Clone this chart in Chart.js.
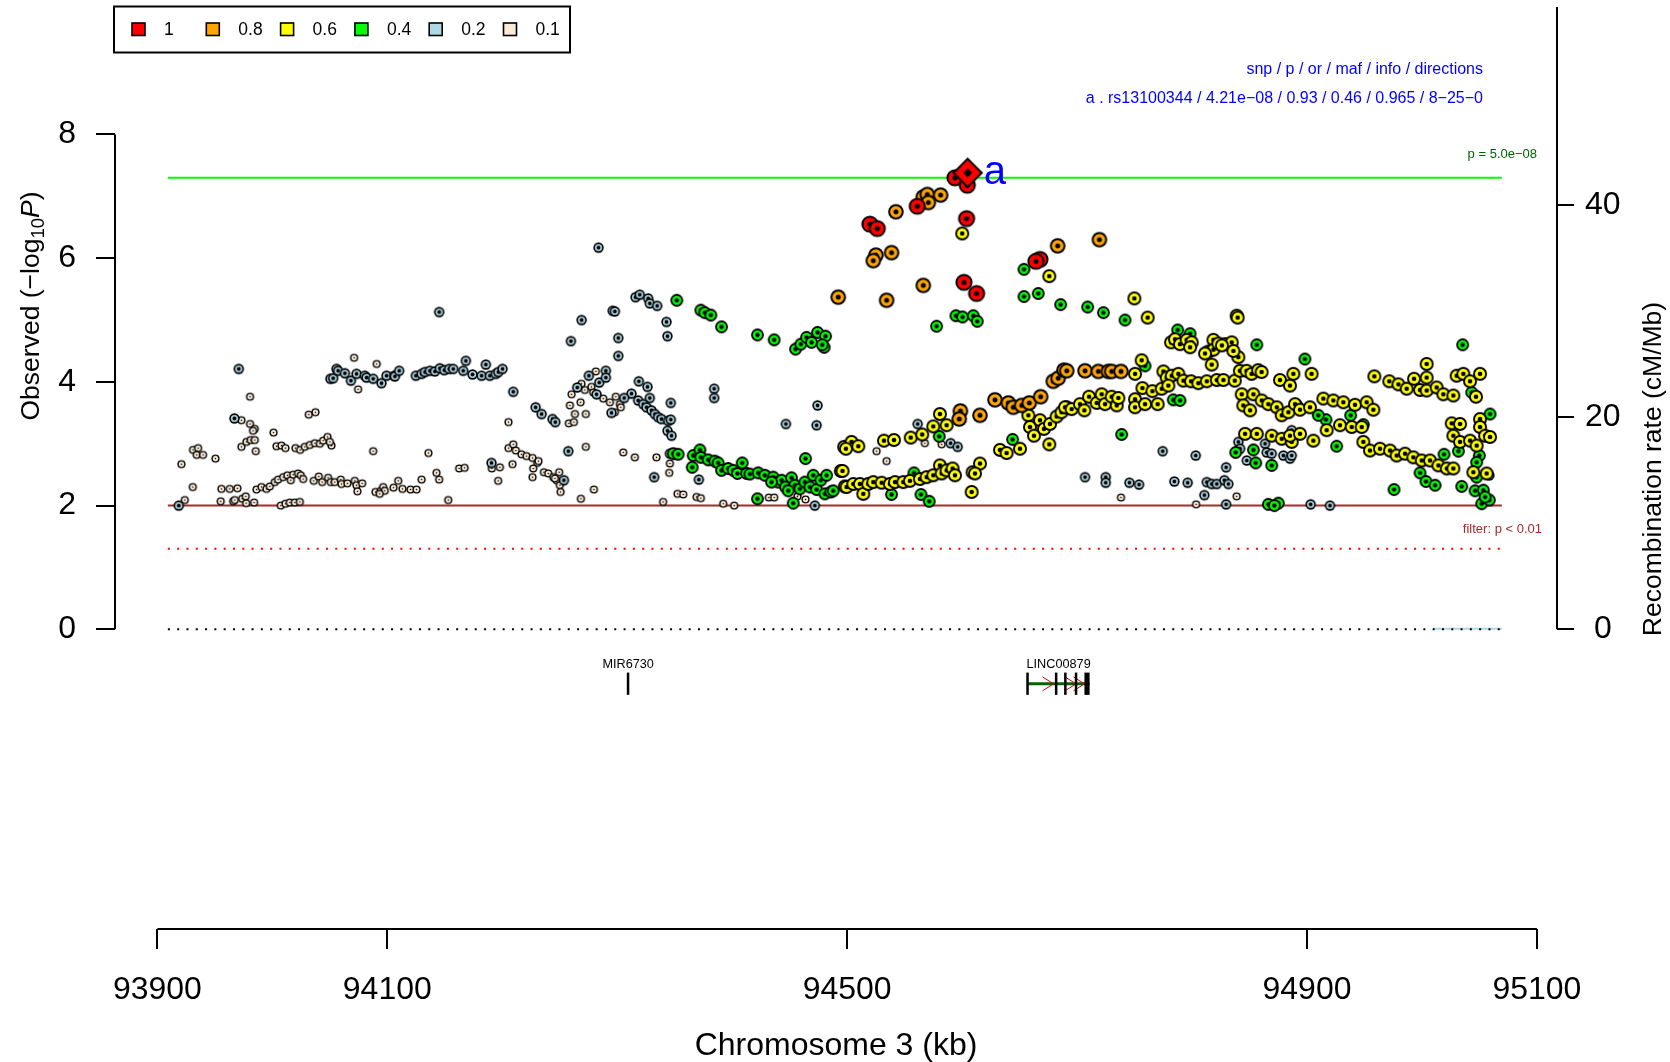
<!DOCTYPE html>
<html>
<head>
<meta charset="utf-8">
<script src="https://cdn.jsdelivr.net/npm/chart.js@4.4.1/dist/chart.umd.min.js"></script>
<style>
  html, body { margin: 0; padding: 0; background: #fff; }
  #wrap { width: 1670px; height: 1062px; }
</style>
</head>
<body>
<div id="wrap"><canvas id="locus" width="1670" height="1062"></canvas></div>
<script>
const FONT = "'Liberation Sans', Arial, Helvetica, sans-serif";

// LD (r^2) bins as in the legend
const ldLabels = ["1", "0.8", "0.6", "0.4", "0.2", "0.1"];
const ldColors = ["#FF0000", "#FFA500", "#FFFF00", "#00FF00", "#ADD8E6", "#FAEBD7"];

// SNPs per LD bin: [position (kb), -log10 p]
const snpsLd10 = [
  [94593.8, 7.30], [94604.5, 7.18], [94561.0, 6.84], [94519.8, 6.55], [94526.2, 6.48],
  [94603.9, 6.64], [94601.6, 5.61], [94612.6, 5.43], [94667.7, 5.98], [94664.2, 5.95]
];
const snpsLd08 = [
  [94492.2, 5.37], [94542.4, 6.75], [94566.2, 6.99], [94569.7, 7.03], [94581.3, 7.02], [94570.6, 6.90],
  [94525.0, 6.05], [94522.7, 5.96], [94538.6, 6.09], [94566.2, 5.56], [94534.3, 5.32], [94683.1, 6.20],
  [94615.5, 3.46], [94598.5, 3.53], [94597.5, 3.40], [94628.6, 3.71], [94640.2, 3.66], [94644.5, 3.59],
  [94651.8, 3.62], [94658.4, 3.66], [94668.3, 3.76], [94679.3, 4.01], [94683.6, 4.06], [94688.6, 4.19],
  [94719.4, 6.30], [94691.0, 4.18], [94706.9, 4.18], [94718.5, 4.17], [94727.2, 4.17], [94730.1, 4.17],
  [94738.2, 4.17]
];
const snpsLd06 = [
  [94497.4, 2.95], [94494.5, 2.56], [94498.0, 2.31],
  [94600.1, 6.40], [94675.8, 5.71], [94580.7, 3.48], [94574.9, 3.28], [94586.5, 3.30], [94555.3, 3.10],
  [94532.0, 3.05], [94540.7, 3.06], [94503.8, 3.03], [94509.7, 2.96], [94498.9, 2.92], [94565.3, 3.15],
  [94675.8, 2.99], [94632.9, 2.90], [94638.7, 2.85], [94650.3, 2.92], [94657.6, 3.46], [94659.0, 3.27],
  [94662.5, 3.13], [94667.7, 3.38], [94671.2, 3.24], [94676.4, 3.32], [94682.2, 3.44], [94686.5, 3.51],
  [94690.9, 3.59],
  [94496.0, 2.56], [94499.5, 2.30], [94505.3, 2.35], [94511.1, 2.35], [94514.0, 2.19], [94518.3, 2.35],
  [94522.7, 2.38], [94530.0, 2.37], [94537.2, 2.35], [94541.6, 2.38], [94548.8, 2.38], [94554.6, 2.40],
  [94563.3, 2.43], [94569.1, 2.46], [94574.9, 2.49], [94580.7, 2.65], [94582.2, 2.52], [94586.5, 2.57],
  [94591.7, 2.60], [94593.8, 2.49], [94608.3, 2.22], [94609.1, 2.54], [94615.5, 2.68], [94611.2, 2.52],
  [94749.8, 5.35], [94761.4, 5.04], [94838.8, 5.07], [94839.7, 5.04],
  [94781.7, 4.64], [94785.2, 4.69], [94789.5, 4.61], [94795.3, 4.68], [94799.7, 4.64], [94798.3, 4.56],
  [94818.6, 4.68], [94814.2, 4.49], [94818.6, 4.52], [94822.9, 4.62], [94828.7, 4.61], [94834.5, 4.64],
  [94840.3, 4.40], [94817.1, 4.28], [94826.0, 4.59], [94811.3, 4.46], [94836.0, 4.50],
  [94750.4, 4.13], [94756.2, 4.35], [94775.1, 4.17], [94778.0, 4.07], [94782.3, 4.10], [94788.1, 4.13],
  [94792.5, 4.02], [94799.1, 4.01], [94805.5, 3.98], [94812.8, 4.01], [94821.5, 4.03], [94827.3, 4.03],
  [94837.2, 4.02], [94841.6, 4.18], [94847.4, 4.18], [94851.8, 4.13], [94857.5, 4.19], [94860.5, 4.16],
  [94876.5, 4.03], [94885.2, 3.94], [94888.1, 4.13],
  [94689.5, 3.59], [94695.3, 3.56], [94702.5, 3.64], [94706.3, 3.54], [94710.4, 3.76], [94717.1, 3.66],
  [94721.4, 3.80], [94724.3, 3.64], [94730.1, 3.76], [94734.5, 3.62], [94735.9, 3.74], [94750.4, 3.72],
  [94750.4, 3.59], [94756.8, 3.90], [94759.1, 3.64], [94765.5, 3.85], [94770.1, 3.64], [94773.6, 3.89],
  [94779.4, 3.94],
  [94843.2, 3.80], [94844.6, 3.62], [94850.5, 3.54], [94853.4, 3.80], [94860.6, 3.70], [94866.4, 3.64],
  [94873.7, 3.59], [94878.0, 3.46], [94883.8, 3.51], [94889.6, 3.64],
  [94846.1, 3.16], [94856.3, 3.16], [94869.3, 3.13], [94878.0, 3.08], [94886.7, 3.03],
  [94904.0, 4.13], [94958.6, 4.09], [95004.1, 4.29], [95004.1, 4.07], [94971.6, 4.01], [94979.5, 3.96],
  [94986.7, 3.89], [94993.1, 4.05], [94998.3, 3.87], [95004.1, 3.86], [95012.8, 3.91], [95018.6, 3.80],
  [95027.3, 3.78], [95030.2, 4.10], [95036.0, 4.13], [95041.8, 4.01], [95050.5, 4.13], [95047.0, 3.76],
  [94893.9, 3.55], [94902.6, 3.59], [94914.2, 3.73], [94922.9, 3.70], [94931.6, 3.67], [94941.7, 3.63],
  [94951.9, 3.67], [94957.7, 3.55],
  [94885.2, 3.13], [94893.9, 3.16], [94905.5, 3.05], [94917.1, 3.22], [94928.7, 3.30], [94938.9, 3.27],
  [94947.6, 3.27], [94949.0, 3.03], [94954.8, 2.89], [94963.5, 2.92], [94972.2, 2.89], [94978.0, 2.81],
  [94985.3, 2.84], [94992.5, 2.78], [94999.8, 2.73], [95007.0, 2.73], [95014.3, 2.65], [95021.6, 2.60],
  [95027.3, 2.60],
  [95025.9, 3.33], [95033.1, 3.32], [95050.5, 3.40], [95050.5, 3.27], [95054.9, 3.13], [95059.2, 3.11],
  [95027.3, 3.13], [95033.1, 3.03], [95041.8, 3.05], [95047.6, 2.97], [95044.7, 2.54], [95056.3, 2.52]
];
const snpsLd04 = [
  [94351.8, 5.32], [94372.7, 5.16], [94376.2, 5.12], [94381.4, 5.08], [94390.7, 4.89], [94422.0, 4.76],
  [94436.5, 4.68], [94455.1, 4.53], [94459.7, 4.61], [94464.7, 4.72], [94469.0, 4.64], [94474.2, 4.80],
  [94481.2, 4.74], [94480.0, 4.56], [94478.3, 4.60],
  [94348.7, 2.84], [94353.0, 2.83], [94365.2, 2.62], [94366.1, 2.81], [94371.9, 2.90], [94372.7, 2.78],
  [94379.1, 2.74], [94384.9, 2.72], [94387.8, 2.69], [94390.7, 2.57], [94396.5, 2.60], [94400.9, 2.57],
  [94404.6, 2.52], [94408.7, 2.69], [94412.5, 2.52], [94415.4, 2.51], [94422.6, 2.53], [94428.4, 2.49],
  [94435.7, 2.46], [94440.0, 2.38], [94443.0, 2.41], [94446.4, 2.30], [94451.6, 2.45], [94454.5, 2.33],
  [94458.9, 2.27], [94463.2, 2.38], [94463.8, 2.76], [94467.6, 2.30], [94470.5, 2.49], [94473.4, 2.26],
  [94477.1, 2.41], [94480.6, 2.19], [94482.1, 2.49], [94485.8, 2.22], [94487.9, 2.24], [94453.1, 2.04],
  [94422.0, 2.11], [94434.2, 2.38], [94448.7, 2.24],
  [94577.8, 4.90], [94594.6, 5.07], [94600.4, 5.05], [94609.7, 5.07], [94613.2, 4.98], [94653.8, 5.82],
  [94653.8, 5.38], [94666.2, 5.43], [94685.7, 5.25], [94538.6, 2.18], [94564.2, 2.18], [94571.4, 2.07],
  [94558.1, 2.53], [94580.1, 3.12], [94643.9, 3.07],
  [94709.2, 5.21], [94722.9, 5.12], [94741.7, 5.00], [94787.5, 4.84], [94798.3, 4.78], [94856.3, 4.60],
  [94759.1, 4.26], [94783.7, 3.71], [94789.5, 3.70], [94738.8, 3.15], [94838.0, 2.86], [94853.4, 2.90],
  [94855.4, 2.69], [94869.3, 2.65], [94866.4, 2.02], [94875.1, 2.04], [94871.6, 2.00],
  [94898.2, 4.37], [95035.4, 4.60], [94938.0, 3.46], [94925.8, 2.96], [94916.5, 3.39], [94949.0, 3.31],
  [95059.2, 3.48], [94998.3, 2.53], [95003.5, 2.39], [95011.4, 2.33], [94975.7, 2.26], [95034.6, 2.31],
  [95019.2, 2.83], [95031.7, 2.88], [95049.9, 2.81], [95047.6, 2.70], [95046.2, 2.24], [95053.4, 2.25],
  [95047.6, 2.46], [95052.0, 2.03], [95058.6, 2.09], [95054.9, 2.14], [94891.0, 3.62], [94909.8, 3.46],
  [95043.3, 3.83]
];
const snpsLd02 = [
  [93918.6, 2.00], [93970.8, 4.21], [93967.0, 3.41],
  [94050.5, 4.05], [94052.9, 4.06], [94055.8, 4.21], [94057.2, 4.18], [94063.1, 4.14], [94068.3, 4.02],
  [94073.2, 4.13], [94080.4, 4.10], [94081.9, 4.07], [94087.7, 4.05], [94094.9, 3.98], [94099.3, 4.10],
  [94106.0, 4.10], [94106.6, 4.09], [94110.3, 4.18], [94124.8, 4.10], [94129.8, 4.13], [94132.7, 4.16],
  [94137.0, 4.18], [94141.4, 4.17], [94145.7, 4.22], [94149.5, 4.19], [94153.8, 4.21], [94157.3, 4.21],
  [94166.0, 4.18], [94168.3, 4.34], [94174.1, 4.12], [94182.0, 4.10], [94185.7, 4.28], [94189.2, 4.10],
  [94194.4, 4.13], [94196.5, 4.16], [94200.2, 4.21],
  [94145.1, 5.13], [94190.6, 2.69], [94209.5, 3.84], [94253.6, 2.41], [94229.0, 3.59], [94234.2, 3.48],
  [94243.7, 3.40], [94246.1, 3.35], [94257.4, 2.88], [94283.7, 6.17], [94269.0, 5.00], [94259.7, 4.66],
  [94296.0, 5.15], [94300.9, 4.71], [94300.9, 4.42], [94265.2, 3.91], [94275.3, 4.10], [94282.0, 3.80],
  [94284.3, 3.99], [94290.1, 4.18], [94290.1, 4.07], [94295.0, 3.50],
  [94315.9, 5.37], [94319.6, 5.41], [94326.9, 5.35], [94328.3, 5.27], [94334.7, 5.23], [94342.8, 4.97],
  [94343.7, 4.74], [94297.9, 5.14],
  [94318.8, 4.01], [94326.3, 3.92], [94328.3, 3.74], [94312.4, 3.81], [94306.0, 3.74], [94318.2, 3.70],
  [94322.6, 3.64], [94325.5, 3.59], [94329.8, 3.54], [94332.7, 3.48], [94335.6, 3.43], [94338.5, 3.40],
  [94344.3, 3.37], [94346.6, 3.39], [94346.6, 3.66], [94343.7, 3.21], [94347.2, 3.13], [94384.3, 3.89],
  [94384.3, 3.74], [94474.2, 3.62], [94446.7, 3.32], [94473.4, 3.30], [94332.1, 2.46], [94371.0, 2.42],
  [94471.9, 2.00], [94429.8, 2.49], [94345.8, 2.84],
  [94561.3, 3.32], [94590.0, 3.01], [94596.1, 2.95],
  [94706.9, 2.46], [94724.9, 2.46], [94724.9, 2.37], [94745.5, 2.37], [94753.9, 2.34], [94774.5, 2.88],
  [94803.2, 2.81], [94784.6, 2.39], [94796.2, 2.37], [94812.8, 2.38], [94817.1, 2.35], [94821.5, 2.35],
  [94828.1, 2.41], [94831.6, 2.35], [94829.6, 2.62], [94810.7, 2.17], [94829.6, 2.02], [94840.3, 3.03],
  [94841.8, 2.92], [94847.6, 2.73], [94863.5, 3.00], [94864.9, 2.86], [94869.3, 2.84], [94879.4, 2.81],
  [94885.2, 2.76], [94886.7, 3.22],
  [94903.2, 2.02], [94920.0, 2.00], [94886.7, 2.81], [95058.6, 2.49]
];
const snpsLd01 = [
  [93923.8, 2.09], [93920.9, 2.67], [93930.8, 2.30], [93931.0, 2.90], [93935.4, 2.93], [93934.2, 2.82],
  [93939.7, 2.82], [93950.5, 2.76], [93955.7, 2.27], [93962.9, 2.27], [93969.6, 2.28], [93955.1, 2.07],
  [93965.9, 2.07], [93973.7, 2.11], [93977.2, 2.04], [93984.1, 2.05], [93967.3, 2.09], [93976.9, 2.15],
  [93980.6, 3.76], [93973.1, 3.38], [93980.6, 3.32], [93984.7, 3.24], [93983.2, 3.21], [93973.1, 2.95],
  [93977.4, 3.03], [93981.2, 3.06], [93984.7, 3.06], [93985.6, 2.88], [94001.0, 3.18], [94003.6, 2.96],
  [94007.9, 2.97], [94011.4, 2.93], [94020.1, 2.93], [94024.2, 2.90], [94028.2, 2.95], [94032.6, 2.98],
  [94037.0, 3.01], [94041.3, 3.00], [94044.2, 3.05], [94048.0, 3.11], [94051.4, 2.97], [94050.0, 3.03],
  [94031.7, 3.47], [94037.5, 3.51], [94071.1, 4.39], [94090.8, 4.29], [94074.6, 3.88], [94087.7, 2.88],
  [93986.2, 2.26], [93990.5, 2.30], [93994.9, 2.27], [93997.8, 2.31], [94002.1, 2.38], [94005.0, 2.42],
  [94009.4, 2.46], [94013.1, 2.49], [94016.0, 2.41], [94018.1, 2.50], [94022.4, 2.52], [94024.7, 2.49],
  [94026.8, 2.43], [94036.0, 2.40], [94040.4, 2.47], [94043.3, 2.38], [94048.5, 2.45], [94050.8, 2.38],
  [94054.3, 2.38], [94059.5, 2.42], [94060.1, 2.35], [94065.3, 2.36], [94071.7, 2.40], [94073.1, 2.33],
  [94074.0, 2.23], [94078.1, 2.36],
  [94007.3, 2.00], [94011.4, 2.03], [94015.2, 2.05], [94019.5, 2.05], [94023.9, 2.06],
  [94089.7, 2.22], [94094.3, 2.24], [94096.4, 2.30], [94097.8, 2.24], [94093.4, 2.19], [94105.4, 2.29],
  [94109.5, 2.40], [94113.2, 2.27], [94120.2, 2.26], [94125.4, 2.26], [94129.8, 2.42], [94135.8, 2.85],
  [94142.8, 2.53], [94145.1, 2.42], [94153.0, 2.09], [94162.5, 2.60], [94167.2, 2.61], [94190.9, 2.60],
  [94197.9, 2.62], [94196.4, 2.40], [94205.4, 3.35],
  [94205.4, 2.93], [94209.5, 2.99], [94211.8, 2.89], [94216.7, 2.83], [94221.1, 2.80], [94226.3, 2.77],
  [94230.4, 2.69], [94231.5, 2.72], [94226.9, 2.60], [94236.2, 2.54], [94240.0, 2.52], [94244.3, 2.46],
  [94247.2, 2.41], [94249.5, 2.54], [94250.1, 2.33], [94250.7, 2.22], [94208.9, 2.67], [94226.3, 2.46],
  [94245.8, 2.44], [94272.7, 2.95], [94268.4, 2.11], [94279.7, 2.26],
  [94260.3, 3.80], [94258.8, 3.62], [94263.2, 3.48], [94257.9, 3.33], [94262.3, 3.35], [94268.1, 3.67],
  [94272.7, 3.48], [94271.8, 3.87], [94277.6, 3.92], [94281.4, 4.17], [94287.8, 3.73], [94293.6, 3.67],
  [94298.8, 3.76], [94302.3, 3.64], [94268.9, 3.97], [94279.1, 3.83],
  [94303.1, 3.59], [94297.9, 3.51], [94305.2, 2.86], [94315.3, 2.78], [94334.1, 2.78], [94345.8, 2.68],
  [94345.2, 2.53], [94352.4, 2.19], [94357.4, 2.18], [94369.0, 2.14], [94372.7, 2.12], [94339.9, 2.06],
  [94392.2, 2.03], [94401.7, 2.00], [94431.9, 2.13], [94436.5, 2.13], [94463.8, 2.10], [94456.8, 2.15],
  [94525.6, 2.88], [94534.3, 2.72], [94567.6, 3.01], [94582.2, 2.99],
  [94738.2, 2.13], [94803.5, 2.02], [94838.8, 2.15]
];

// index SNP
const leadSnp = [[94604.8, 7.38]];
const leadTag = "a";
const infoHeader = "snp / p / or / maf / info / directions";
const infoLine = "a . rs13100344 / 4.21e\u221208 / 0.93 / 0.46 / 0.965 / 8\u221225\u22120";

// axes
const xTicks = [93900, 94100, 94500, 94900, 95100];
const yTicks = [0, 2, 4, 6, 8];
const recombTicks = [0, 20, 40];
const recombAxisTop = 58.7;

// reference lines across the SNP span
const refLineKb = [93909.1, 95069.5];
const gwsLogP = 7.301;     // p = 5e-08
const filterLogP = 2;      // p < 0.01
const nominalLogP = 1.301; // p = 0.05

// recombination rate (cM/Mb)
const recombKb = [95009.6, 95069.5];
const recombRate = [0.05, 0.05];

// gene track
const geneNames = ["MIR6730", "LINC00879"];
const geneStart = [94309.5, 94657.0];
const geneEnd = [94309.5, 94710.9];
const geneExons = [
  [[94309.4, 94309.6]],
  [[94656.9, 94657.1], [94681.8, 94682.0], [94689.8, 94690.0], [94699.1, 94699.3], [94706.4, 94710.9]]
];
const geneArrowsKb = [[], [94679.5, 94699.0, 94706.4]];

// marker look per LD bin (outer radius, outline, centre dot)
const ldOuterR = [8.6, 7.8, 7.0, 6.4, 5.2, 4.1];
const ldBorder = [2.0, 2.0, 1.9, 1.8, 1.6, 1.4];
const ldDotR = [2.6, 2.5, 2.3, 2.2, 1.9, 0.8];

// pixel frame of the original figure (0 of both y axes sits at 629.3 px)
const frame = { yZero: 629.3, yPerUnit: 61.85, y2PerUnit: 10.6, x0Kb: 93900, x0Px: 157.4, xPerKb: 1.1496 };

function markerImage(outerR, border, dotR, fill, diamond) {
  const size = Math.ceil(outerR * 2) + 2;
  const c = document.createElement("canvas");
  c.width = size;
  c.height = size;
  const g = c.getContext("2d");
  const m = size / 2;
  const shape = (r) => {
    g.beginPath();
    if (diamond) {
      g.moveTo(m, m - r); g.lineTo(m + r, m); g.lineTo(m, m + r); g.lineTo(m - r, m); g.closePath();
    } else {
      g.arc(m, m, r, 0, Math.PI * 2);
    }
  };
  g.fillStyle = "#000"; shape(outerR); g.fill();
  g.fillStyle = fill; shape(outerR - border * (diamond ? 1.41 : 1)); g.fill();
  g.fillStyle = "#000"; shape(dotR); g.fill();
  return c;
}

const toXY = (pts) => pts.map((p) => ({ x: p[0], y: p[1] }));
const hLine = (v) => refLineKb.map((k) => ({ x: k, y: v }));

const ldSets = [snpsLd10, snpsLd08, snpsLd06, snpsLd04, snpsLd02, snpsLd01];
const snpDatasets = ldSets.map((pts, i) => ({
  label: ldLabels[i],
  data: toXY(pts),
  pointStyle: markerImage(ldOuterR[i], ldBorder[i], ldDotR[i], ldColors[i], false),
  pointRadius: ldOuterR[i],
  backgroundColor: ldColors[i],
  order: i + 1,
  yAxisID: "y",
}));

const lineDatasets = [
  { label: "gws", data: hLine(gwsLogP), borderColor: "#00FF00", borderWidth: 2.2, order: 16 },
  { label: "filter", data: hLine(filterLogP), borderColor: "#A52A2A", borderWidth: 2, order: 17 },
  { label: "nominal", data: hLine(nominalLogP), borderColor: "#FF0000", borderWidth: 2, borderDash: [2, 7.3], order: 18 },
  { label: "zero", data: hLine(0), borderColor: "#000", borderWidth: 2, borderDash: [2, 7.3], order: 19 },
].map((d) => Object.assign({ showLine: true, pointRadius: 0, yAxisID: "y", fill: false }, d));

const recombDataset = {
  label: "recomb",
  data: recombKb.map((k, i) => ({ x: k, y: recombRate[i] })),
  showLine: true,
  pointRadius: 0,
  borderColor: "#ADD8E6",
  borderWidth: 2.2,
  yAxisID: "y2",
  order: 20,
};

const leadDataset = {
  label: "lead",
  data: toXY(leadSnp),
  pointStyle: markerImage(15.5, 2.0, 4.5, "#FF0000", true),
  pointRadius: 15.5,
  order: 0,
  yAxisID: "y",
};

// white page
const bgPlugin = {
  id: "bg",
  beforeDraw(chart) {
    const { ctx } = chart;
    ctx.save();
    ctx.fillStyle = "#fff";
    ctx.fillRect(0, 0, chart.width, chart.height);
    ctx.restore();
  },
};

// pin the value->pixel mapping to the original figure's frame, whatever padding the layout chose
const framePlugin = {
  id: "frame",
  afterLayout(chart) {
    const a = chart.chartArea;
    const { x, y, y2 } = chart.scales;
    y.min = (frame.yZero - a.bottom) / frame.yPerUnit;
    y.max = (frame.yZero - a.top) / frame.yPerUnit;
    y.configure();
    y2.min = (frame.yZero - a.bottom) / frame.y2PerUnit;
    y2.max = (frame.yZero - a.top) / frame.y2PerUnit;
    y2.configure();
    x.min = frame.x0Kb + (a.left - frame.x0Px) / frame.xPerKb;
    x.max = frame.x0Kb + (a.right - frame.x0Px) / frame.xPerKb;
    x.configure();
  },
};

// axis lines (only across the tick range, like R), titles, legend, gene track, notes
const decorPlugin = {
  id: "decor",
  afterDraw(chart) {
    const { ctx, chartArea: a, scales } = chart;
    const x = scales.x, y = scales.y, y2 = scales.y2;
    ctx.save();

    // axis lines
    ctx.strokeStyle = "#000";
    ctx.lineWidth = 2;
    ctx.beginPath();
    ctx.moveTo(a.left, y.getPixelForValue(yTicks[0]));
    ctx.lineTo(a.left, y.getPixelForValue(yTicks[yTicks.length - 1]));
    ctx.moveTo(a.right, y2.getPixelForValue(0));
    ctx.lineTo(a.right, y2.getPixelForValue(recombAxisTop));
    ctx.moveTo(x.getPixelForValue(xTicks[0]), a.bottom);
    ctx.lineTo(x.getPixelForValue(xTicks[xTicks.length - 1]), a.bottom);
    ctx.stroke();

    // left title with subscript and italic P
    ctx.save();
    ctx.translate(29, 306);
    ctx.rotate(-Math.PI / 2);
    ctx.fillStyle = "#000";
    ctx.textBaseline = "alphabetic";
    const parts = [
      { t: "Observed (\u2212log", f: "26.5px " + FONT, dy: 0 },
      { t: "10", f: "18.5px " + FONT, dy: 5 },
      { t: "P", f: "italic 26.5px " + FONT, dy: 0 },
      { t: ")", f: "26.5px " + FONT, dy: 0 },
    ];
    let total = 0;
    parts.forEach((p) => { ctx.font = p.f; p.w = ctx.measureText(p.t).width; total += p.w; });
    let cx = -total / 2;
    parts.forEach((p) => { ctx.font = p.f; ctx.textAlign = "left"; ctx.fillText(p.t, cx, 9.5 + p.dy); cx += p.w; });
    ctx.restore();

    // right title
    ctx.save();
    ctx.translate(1654, 469);
    ctx.rotate(-Math.PI / 2);
    ctx.fillStyle = "#000";
    ctx.font = "26.5px " + FONT;
    ctx.textAlign = "center";
    ctx.textBaseline = "middle";
    ctx.fillText("Recombination rate (cM/Mb)", 0, 0);
    ctx.restore();

    // legend
    ctx.lineWidth = 2;
    ctx.strokeStyle = "#000";
    ctx.strokeRect(114, 6.5, 456, 46);
    ctx.font = "17.5px " + FONT;
    ctx.textBaseline = "middle";
    ctx.textAlign = "left";
    ldLabels.forEach((lab, i) => {
      const bx = 132 + i * 74.3;
      ctx.fillStyle = ldColors[i];
      ctx.fillRect(bx, 23, 13, 12.5);
      ctx.lineWidth = 1.6;
      ctx.strokeRect(bx, 23, 13, 12.5);
      ctx.fillStyle = "#000";
      ctx.fillText(lab, bx + 32, 30);
    });

    // notes on the right
    ctx.textAlign = "right";
    ctx.fillStyle = "#0000FF";
    ctx.font = "16px " + FONT;
    ctx.fillText(infoHeader, 1483, 69.5);
    ctx.fillText(infoLine, 1483, 98.5);
    ctx.font = "13px " + FONT;
    ctx.fillStyle = "#006400";
    ctx.fillText("p = 5.0e\u221208", 1537, 154);
    ctx.fillStyle = "#A52A2A";
    ctx.fillText("filter: p < 0.01", 1542, 529);

    // lead label
    const lead = chart.getDatasetMeta(chart.data.datasets.indexOf(leadDataset)).data[0];
    ctx.fillStyle = "#0000FF";
    ctx.font = "40px " + FONT;
    ctx.textAlign = "left";
    ctx.textBaseline = "alphabetic";
    ctx.fillText(leadTag, lead.x + 16, lead.y + 11);

    // gene track
    const yBody = y.getPixelForValue(-0.882);
    const yTop = y.getPixelForValue(-0.70);
    const yBot = y.getPixelForValue(-1.06);
    const yLab = y.getPixelForValue(-0.575);
    geneNames.forEach((name, gi) => {
      const gx0 = x.getPixelForValue(geneStart[gi]);
      const gx1 = x.getPixelForValue(geneEnd[gi]);
      if (gx1 > gx0) {
        ctx.strokeStyle = "#006400";
        ctx.lineWidth = 3;
        ctx.beginPath();
        ctx.moveTo(gx0, yBody);
        ctx.lineTo(gx1, yBody);
        ctx.stroke();
      }
      ctx.strokeStyle = "#CC0000";
      ctx.lineWidth = 1;
      geneArrowsKb[gi].forEach((k) => {
        const ax = x.getPixelForValue(k);
        ctx.beginPath();
        ctx.moveTo(ax - 11, yBody - 7);
        ctx.lineTo(ax, yBody);
        ctx.lineTo(ax - 11, yBody + 7);
        ctx.stroke();
      });
      ctx.fillStyle = "#000";
      geneExons[gi].forEach((ex) => {
        const ex0 = x.getPixelForValue(ex[0]);
        const w = Math.max(x.getPixelForValue(ex[1]) - ex0, 2.5);
        ctx.fillRect(ex0 - (w === 2.5 ? 1.25 : 0), yTop, w, yBot - yTop);
      });
      ctx.font = "12.7px " + FONT;
      ctx.textAlign = "center";
      ctx.textBaseline = "middle";
      ctx.fillText(name, (gx0 + gx1) / 2, yLab);
    });

    ctx.restore();
  },
};

const tickFont = { family: FONT, size: 32 };

new Chart(document.getElementById("locus"), {
  type: "scatter",
  data: { datasets: [leadDataset, ...snpDatasets, ...lineDatasets, recombDataset] },
  options: {
    responsive: false,
    animation: false,
    events: [],
    layout: { padding: { top: 7.5, left: 0, right: 0, bottom: 0 } },
    plugins: { legend: { display: false }, tooltip: { enabled: false } },
    scales: {
      x: {
        type: "linear",
        position: "bottom",
        min: 93862.94,
        max: 95117.49,
        afterBuildTicks: (s) => { s.ticks = xTicks.map((v) => ({ value: v })); },
        afterFit: (s) => { s.height = 133; s.paddingLeft = 0; s.paddingRight = 0; },
        grid: { display: true, drawOnChartArea: false, drawTicks: true, tickLength: 20, color: "#000", lineWidth: 2 },
        border: { display: false },
        ticks: { font: tickFont, color: "#000", padding: 22, maxRotation: 0, autoSkip: false, callback: (v) => String(v) },
        title: {
          display: true,
          text: "Chromosome 3 (kb)",
          color: "#000",
          font: { family: FONT, size: 32, lineHeight: 1.0 },
          padding: { top: 0, bottom: 0 },
        },
      },
      y: {
        position: "left",
        min: -4.834,
        max: 10.029,
        afterBuildTicks: (s) => { s.ticks = yTicks.map((v) => ({ value: v })); },
        afterFit: (s) => { s.width = 115; s.paddingTop = 0; s.paddingBottom = 0; },
        grid: { display: true, drawOnChartArea: false, drawTicks: true, tickLength: 19, color: "#000", lineWidth: 2 },
        border: { display: false },
        ticks: { font: tickFont, color: "#000", padding: 20, callback: (v) => String(v) },
      },
      y2: {
        position: "right",
        min: -28.141,
        max: 58.385,
        afterBuildTicks: (s) => { s.ticks = recombTicks.map((v) => ({ value: v })); },
        afterFit: (s) => { s.width = 113; s.paddingTop = 0; s.paddingBottom = 0; },
        grid: { display: true, drawOnChartArea: false, drawTicks: true, tickLength: 17, color: "#000", lineWidth: 2 },
        border: { display: false },
        ticks: { font: tickFont, color: "#000", padding: 11, crossAlign: "center", callback: (v) => String(v) },
      },
    },
  },
  plugins: [bgPlugin, framePlugin, decorPlugin],
});
</script>
</body>
</html>
